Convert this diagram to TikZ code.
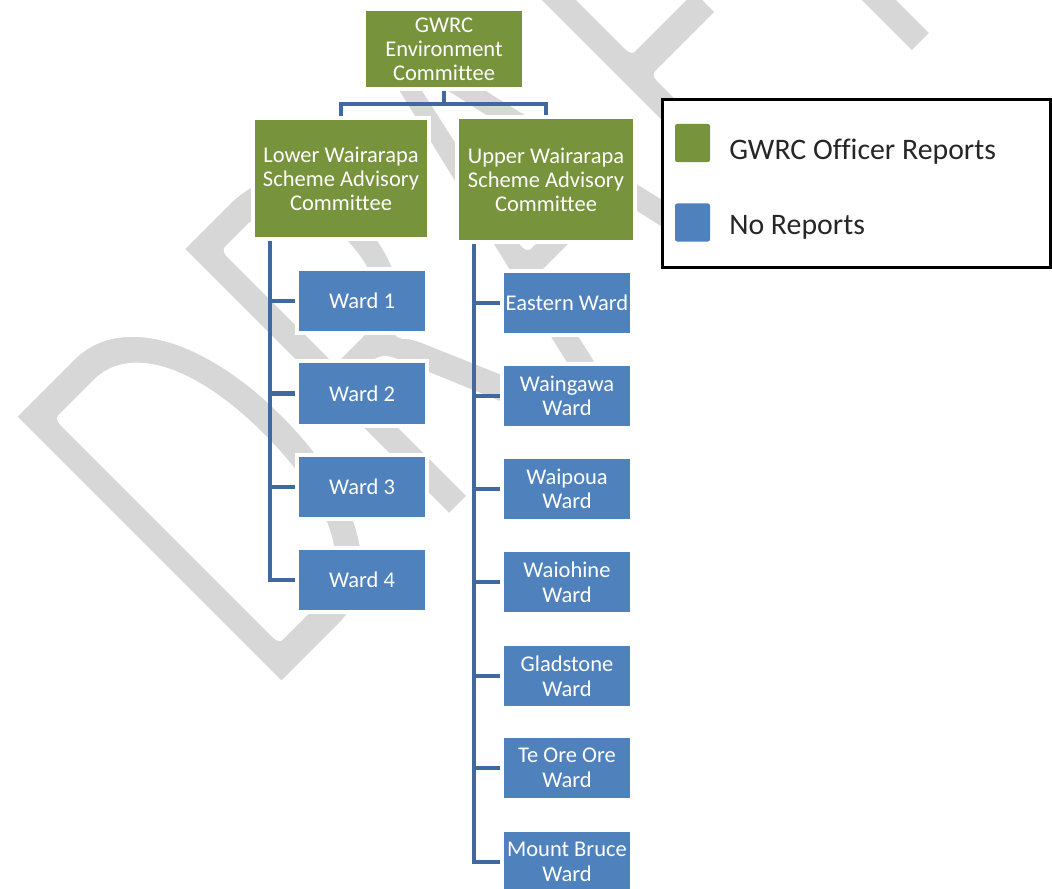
\documentclass[tikz,border=0pt]{standalone}
\usepackage{fontspec}
\setmainfont{Carlito}[Ligatures=NoCommon]
\usepackage{tikz}
\usetikzlibrary{positioning}
\usetikzlibrary{backgrounds}
\definecolor{verdeoliva}{RGB}{119,147,60}
\definecolor{azulward}{RGB}{79,129,189}
\definecolor{azulconector}{RGB}{65,105,160}
\definecolor{grismarca}{RGB}{215,215,215}
\definecolor{textoleyenda}{RGB}{38,38,38}

\begin{document}
\begin{tikzpicture}[
    x=0.025cm, y=-0.025cm,
    comite/.style={rectangle, fill=verdeoliva, draw=white, line width=0.1cm, inner sep=0pt, align=center, text=white, font=\fontsize{16}{17}\selectfont},
    ward/.style={rectangle, fill=azulward, draw=white, line width=0.1cm, minimum width=3.25cm, minimum height=1.6cm, inner sep=0pt, align=center, text=white, font=\fontsize{16}{17.5}\selectfont},
    conector/.style={draw=azulconector, line width=3.4pt},
    muestra/.style={rectangle, rounded corners=1.5pt, minimum width=0.875cm, minimum height=0.95cm, inner sep=0pt},
    etiqueta/.style={anchor=base west, inner sep=0pt, text=textoleyenda, font=\fontsize{21.2}{24}\selectfont}
]
\useasboundingbox (0,0) rectangle (1052,888);

% Marca de agua
\begin{pgfonlayer}{background}
\begin{scope}[shift={(265,708)}, rotate=45, xscale=0.632]
  \node[anchor=base west, inner sep=0pt, transform shape, text=grismarca, font=\fontsize{431}{435}\selectfont] (marca) at (0,0)
    {\special{pdf:literal direct 2 Tr 1 1 1 RG 11 w 1 j}DRAFT\special{pdf:literal direct 0 Tr}};
\end{scope}
\end{pgfonlayer}

% Comites
\node[comite, minimum width=4cm, minimum height=2cm] (gwrc) at (444,49) {GWRC\\Environment\\Committee};
\node[comite, minimum width=4.4cm, minimum height=3.025cm] (lower) at (341,178.5) {Lower Wairarapa\\Scheme Advisory\\Committee};
\node[comite, minimum width=4.45cm, minimum height=3.125cm] (upper) at (546,179.5) {Upper Wairarapa\\Scheme Advisory\\Committee};

% Wards (Lower)
\node[ward] (w1) at (362,301) {Ward 1};
\node[ward] (w2) at (362,393.5) {Ward 2};
\node[ward] (w3) at (362,487) {Ward 3};
\node[ward] (w4) at (362,580) {Ward 4};

% Wards (Upper)
\node[ward] (eastern) at (567,303) {Eastern Ward};
\node[ward] (waingawa) at (567,396) {Waingawa\\Ward};
\node[ward] (waipoua) at (567,489) {Waipoua\\Ward};
\node[ward] (waiohine) at (567,582) {Waiohine\\Ward};
\node[ward] (gladstone) at (567,676) {Gladstone\\Ward};
\node[ward] (teore) at (567,768) {Te Ore Ore\\Ward};
\node[ward] (mtbruce) at (567,862) {Mount Bruce\\Ward};

% Conectores
\coordinate (lbus) at (270,238);
\coordinate (rbus) at (474,240);
\begin{pgfonlayer}{background}
\draw[conector] (gwrc.south) -- ++(0,13) -| (lower.north);
\draw[conector] (gwrc.south) -- ++(0,13) -| (upper.north);
\draw[conector] (lbus) |- (w4.west);
\draw[conector] (lbus |- w1.west) -- (w1.west);
\draw[conector] (lbus |- w2.west) -- (w2.west);
\draw[conector] (lbus |- w3.west) -- (w3.west);
\draw[conector] (rbus) |- (mtbruce.west);
\draw[conector] (rbus |- eastern.west) -- (eastern.west);
\draw[conector] (rbus |- waingawa.west) -- (waingawa.west);
\draw[conector] (rbus |- waipoua.west) -- (waipoua.west);
\draw[conector] (rbus |- waiohine.west) -- (waiohine.west);
\draw[conector] (rbus |- gladstone.west) -- (gladstone.west);
\draw[conector] (rbus |- teore.west) -- (teore.west);
\end{pgfonlayer}

% Leyenda
\node[draw=black, fill=white, line width=0.075cm, minimum width=9.675cm, minimum height=4.175cm, inner sep=0pt] (leyenda) at (856.5,183.5) {};
\node[muestra, fill=verdeoliva] (mverde) at (692.5,143) {};
\node[muestra, fill=azulward] (mazul) at (692.5,222.5) {};
\node[etiqueta] (tverde) at (729,159) {GWRC Officer Reports};
\node[etiqueta] (tazul) at (729,234) {No Reports};

\end{tikzpicture}
\end{document}
